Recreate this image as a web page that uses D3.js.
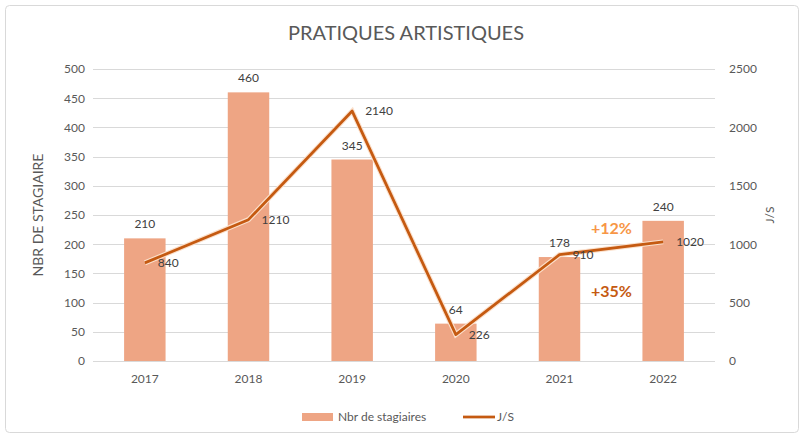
<!DOCTYPE html>
<html lang="fr">
<head>
<meta charset="UTF-8">
<script src="https://cdnjs.cloudflare.com/ajax/libs/d3/7.8.5/d3.min.js"></script>
<style>
  body { margin: 0; background: #fff; }
  text { font-family: Lato, "Open Sans", sans-serif; }
</style>
</head>
<body>
<svg id="chart" width="803" height="438"></svg>
<script>
var years = ["2017", "2018", "2019", "2020", "2021", "2022"];
var stagiaires = [210, 460, 345, 64, 178, 240];
var js = [840, 1210, 2140, 226, 910, 1020];
var leftTicks = [0, 50, 100, 150, 200, 250, 300, 350, 400, 450, 500];
var rightTicks = [0, 500, 1000, 1500, 2000, 2500];

var svg = d3.select("#chart");
var grey = "#595959";

// chart frame
svg.append("rect")
    .attr("x", 5.5).attr("y", 5.5)
    .attr("width", 793).attr("height", 427)
    .attr("rx", 4)
    .attr("fill", "#fff")
    .attr("stroke", "#d9d9d9");

var plotL = 93, plotR = 715, plotT = 69, plotB = 361;

var x = d3.scaleBand().domain(years).range([plotL, plotR]).paddingInner(0.6).paddingOuter(0.3);
var yL = d3.scaleLinear().domain([0, 500]).range([plotB, plotT]);
var yR = d3.scaleLinear().domain([0, 2500]).range([plotB, plotT]);

// gridlines
svg.append("g").selectAll("line")
    .data(leftTicks)
    .join("line")
    .attr("x1", plotL).attr("x2", plotR)
    .attr("y1", function (d) { return Math.round(yL(d)) + 0.5; })
    .attr("y2", function (d) { return Math.round(yL(d)) + 0.5; })
    .attr("stroke", "#d9d9d9");

// left axis
var axL = svg.append("g")
    .attr("transform", "translate(" + (plotL - 8) + ",0)")
    .call(d3.axisLeft(yL).tickValues(leftTicks).tickSize(0).tickPadding(0));
axL.select(".domain").remove();
axL.selectAll("text").attr("fill", grey).style("font-size", "12px");

// right axis
var axR = svg.append("g")
    .attr("transform", "translate(" + (plotR + 14) + ",0)")
    .call(d3.axisRight(yR).tickValues(rightTicks).tickFormat(d3.format("d")).tickSize(0).tickPadding(0));
axR.select(".domain").remove();
axR.selectAll("text").attr("fill", grey).style("font-size", "12px");

// x axis
var axX = svg.append("g")
    .attr("transform", "translate(0," + (plotB + 13) + ")")
    .call(d3.axisBottom(x).tickSize(0).tickPadding(0));
axX.select(".domain").remove();
axX.selectAll("text").attr("fill", grey).style("font-size", "12px");

// bars
var barColor = "#eea584";
svg.append("g").selectAll("rect")
    .data(stagiaires)
    .join("rect")
    .attr("x", function (d, i) { return x(years[i]); })
    .attr("width", x.bandwidth())
    .attr("y", function (d) { return yL(d); })
    .attr("height", function (d) { return plotB - yL(d); })
    .attr("fill", barColor);

svg.append("g").selectAll("text")
    .data(stagiaires)
    .join("text")
    .attr("x", function (d, i) { return x(years[i]) + x.bandwidth() / 2; })
    .attr("y", function (d) { return yL(d) - 10; })
    .attr("text-anchor", "middle")
    .attr("fill", "#404040")
    .style("font-size", "12px")
    .text(function (d) { return d; });

// line
var line = d3.line()
    .x(function (d, i) { return x(years[i]) + x.bandwidth() / 2; })
    .y(function (d) { return yR(d); });

svg.append("path")
    .datum(js)
    .attr("d", line)
    .attr("fill", "none")
    .attr("stroke", "#fbe0cc")
    .attr("stroke-width", 5);
svg.append("path")
    .datum(js)
    .attr("d", line)
    .attr("fill", "none")
    .attr("stroke", "#c55a11")
    .attr("stroke-width", 2.75)
    .attr("stroke-linejoin", "round");

svg.append("g").selectAll("text")
    .data(js)
    .join("text")
    .attr("x", function (d, i) { return x(years[i]) + x.bandwidth() / 2 + 13; })
    .attr("y", function (d) { return yR(d) + 4; })
    .attr("fill", "#404040")
    .style("font-size", "12px")
    .text(function (d) { return d; });

// title
svg.append("text")
    .attr("x", 406).attr("y", 40)
    .attr("text-anchor", "middle")
    .attr("fill", grey)
    .style("font-size", "20px")
    .text("PRATIQUES ARTISTIQUES");

// axis titles
svg.append("text")
    .attr("transform", "translate(43," + ((plotT + plotB) / 2) + ") rotate(-90)")
    .attr("text-anchor", "middle")
    .attr("fill", grey)
    .style("font-size", "14px")
    .text("NBR DE STAGIAIRE");
svg.append("text")
    .attr("transform", "translate(774," + ((plotT + plotB) / 2) + ") rotate(-90)")
    .attr("text-anchor", "middle")
    .attr("fill", grey)
    .style("font-size", "12px")
    .text("J/S");

// annotations
svg.append("text")
    .attr("x", 591).attr("y", 234)
    .attr("fill", "#f79646")
    .style("font-size", "16px").style("font-weight", "bold")
    .text("+12%");
svg.append("text")
    .attr("x", 591).attr("y", 297)
    .attr("fill", "#c55a11")
    .style("font-size", "16px").style("font-weight", "bold")
    .text("+35%");

// legend
var lg = svg.append("g").attr("transform", "translate(0,417)");
lg.append("rect").attr("x", 302).attr("y", -4).attr("width", 31).attr("height", 8).attr("fill", barColor);
lg.append("text").attr("x", 338).attr("y", 4).attr("fill", grey).style("font-size", "12px").text("Nbr de stagiaires");
lg.append("line").attr("x1", 463).attr("x2", 495).attr("y1", 0).attr("y2", 0)
    .attr("stroke", "#c55a11").attr("stroke-width", 2.75);
lg.append("text").attr("x", 497).attr("y", 4).attr("fill", grey).style("font-size", "12px").text("J/S");
</script>
</body>
</html>
